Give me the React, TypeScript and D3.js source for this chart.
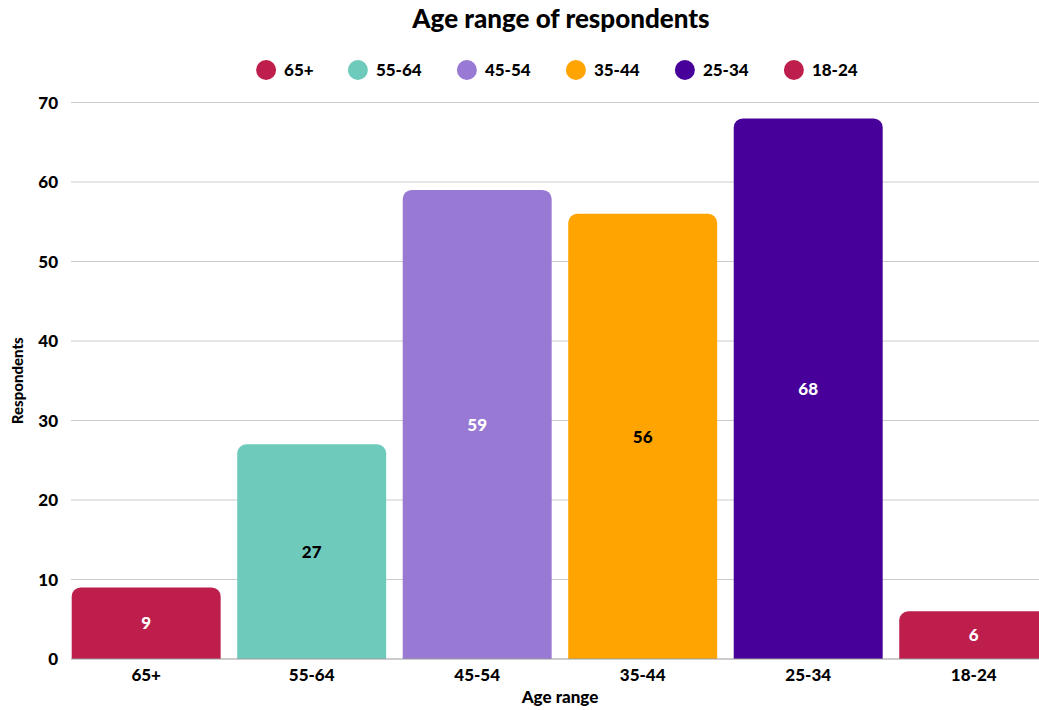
import React from "react";
import * as d3 from "d3";

const categories = ["65+", "55-64", "45-54", "35-44", "25-34", "18-24"];
const respondents = [9, 27, 59, 56, 68, 6];
const barColors = ["#BE1E4B", "#6ECBBC", "#9879D3", "#FFA400", "#470099", "#BE1E4B"];
const labelColors = ["#ffffff", "#000000", "#ffffff", "#000000", "#ffffff", "#ffffff"];
const yTicks = [0, 10, 20, 30, 40, 50, 60, 70];

const W = 1039;
const H = 710;
const FONT = "Lato, 'Open Sans', sans-serif";
const WEIGHT = 900;

function topRoundedRect(x: number, y: number, w: number, h: number, r: number) {
  const rr = Math.min(r, h, w / 2);
  const p = d3.path();
  p.moveTo(x, y + h);
  p.lineTo(x, y + rr);
  p.arcTo(x, y, x + rr, y, rr);
  p.lineTo(x + w - rr, y);
  p.arcTo(x + w, y, x + w, y + rr, rr);
  p.lineTo(x + w, y + h);
  p.closePath();
  return p.toString();
}

export default function App() {
  const x = d3
    .scaleBand<string>()
    .domain(categories)
    .range([71.7, 1048.2])
    .paddingInner(0.1)
    .paddingOuter(0);
  const y = d3.scaleLinear().domain([0, 70]).range([659, 102.5]);

  // legend layout: circle, label, gap
  const legendWidths = categories.map((c) => c.length * 9.6 + (c.includes("+") ? 0 : -2));
  const itemW = legendWidths.map((w) => 20 + 12 + w + 31);
  const total = itemW.reduce((a, b) => a + b, 0) - 31;
  let lx = 559 - total / 2;
  const legendItems = categories.map((c, i) => {
    const item = { cat: c, x: lx, color: barColors[i] };
    lx += itemW[i];
    return item;
  });

  return (
    <svg
      width={W}
      height={H}
      style={{ position: "absolute", left: 0, top: 0, background: "#fff" }}
      fontFamily={FONT}
    >
      <text x={561} y={28} textAnchor="middle" fontSize={26} fontWeight={WEIGHT} fill="#000">
        Age range of respondents
      </text>

      {legendItems.map((d) => (
        <g key={d.cat} transform={`translate(${d.x},70)`}>
          <circle cx={10} cy={0} r={10} fill={d.color} />
          <text x={28} y={6} fontSize={17} fontWeight={WEIGHT} fill="#000">
            {d.cat}
          </text>
        </g>
      ))}

      {yTicks.map((t) => (
        <g key={t}>
          {t !== 0 && (
            <line x1={71} x2={W} y1={y(t)} y2={y(t)} stroke="#cccccc" strokeWidth={1} />
          )}
          <text
            x={58}
            y={y(t)}
            dy="0.36em"
            textAnchor="end"
            fontSize={17}
            fontWeight={WEIGHT}
            fill="#000"
          >
            {t}
          </text>
        </g>
      ))}

      {categories.map((c, i) => {
        const bx = x(c)!;
        const bw = x.bandwidth();
        const top = y(respondents[i]);
        const h = y(0) - top;
        return (
          <g key={c}>
            <path d={topRoundedRect(bx, top, bw, h, 9)} fill={barColors[i]} />
            <text
              x={bx + bw / 2}
              y={top + h / 2}
              dy="0.36em"
              textAnchor="middle"
              fontSize={17}
              fontWeight={WEIGHT}
              fill={labelColors[i]}
            >
              {respondents[i]}
            </text>
            <text
              x={bx + bw / 2}
              y={681}
              textAnchor="middle"
              fontSize={17}
              fontWeight={WEIGHT}
              fill="#000"
            >
              {c}
            </text>
          </g>
        );
      })}

      <line x1={71} x2={W} y1={y(0)} y2={y(0)} stroke="#999999" strokeWidth={1.2} />

      <text x={560} y={703} textAnchor="middle" fontSize={17} fontWeight={WEIGHT} fill="#000">
        Age range
      </text>
      <text
        transform={`translate(23,${(y(0) + y(70)) / 2}) rotate(-90)`}
        textAnchor="middle"
        fontSize={15}
        fontWeight={WEIGHT}
        fill="#000"
      >
        Respondents
      </text>
    </svg>
  );
}
